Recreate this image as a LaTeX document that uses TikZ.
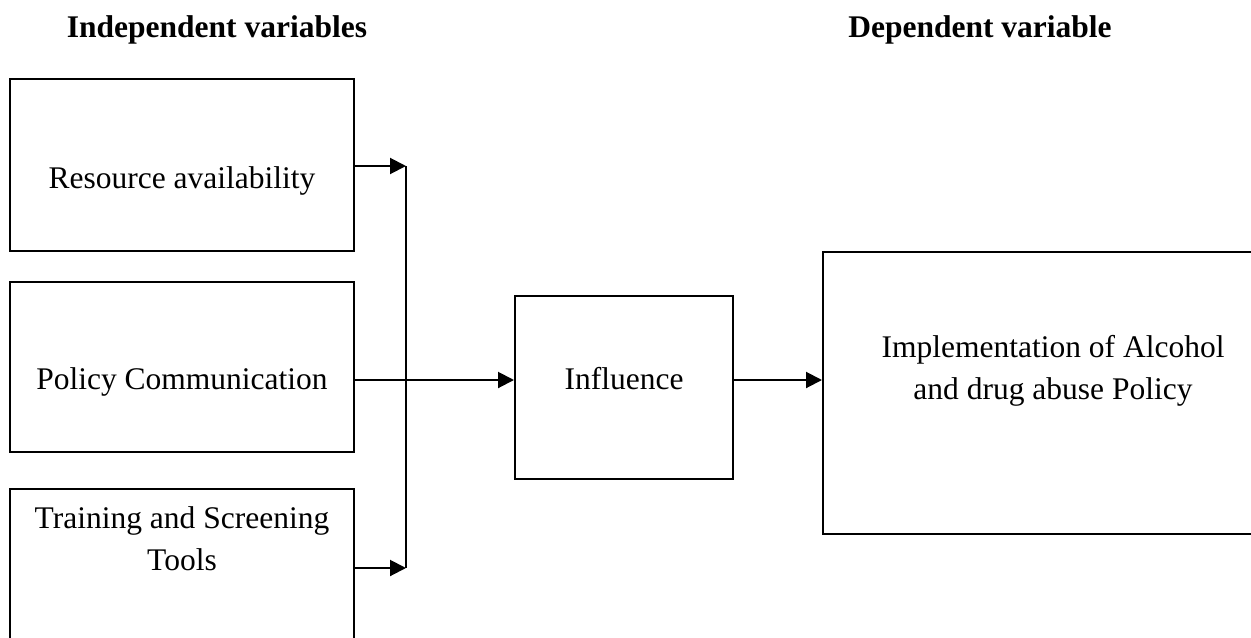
\documentclass[tikz,border=0pt]{standalone}
\usepackage{fontspec}
\setmainfont{Liberation Serif}
\usetikzlibrary{arrows.meta}
\begin{document}
\begin{tikzpicture}[x=0.5pt,y=-0.5pt,
  box/.style={draw, line width=1pt, inner sep=0pt},
  lbl/.style={font=\fontsize{15.75}{21}\selectfont, inner sep=0pt, align=center},
  ttl/.style={font=\fontsize{15.75}{21}\selectfont\bfseries, inner sep=0pt},
  arr/.style={line width=1pt, -{Triangle[length=8pt,width=8pt]}},
  ln/.style={line width=1pt}]
\useasboundingbox (0,0) rectangle (1251,637);
\clip (0,0) rectangle (1251,637);
% titles
\node[ttl, anchor=base] (ti) at (217,37) {Independent variables};
\node[ttl, anchor=base] (td) at (980,37) {Dependent variable};
% boxes
\node[box, minimum width=172pt, minimum height=86pt] (b1) at (182,165) {};
\node[box, minimum width=172pt, minimum height=85pt] (b2) at (182,367) {};
\node[box, minimum width=172pt, minimum height=86pt] (b3) at (182,575) {};
\node[box, minimum width=109pt, minimum height=91.5pt] (inf) at (624,387.5) {};
\node[box, minimum width=230pt, minimum height=141pt] (dv) at (1053,393) {};
% texts
\node[lbl, anchor=base] (t1) at (182,188) {Resource availability};
\node[lbl, anchor=base] (t2) at (182,389) {Policy Communication};
\node[lbl, anchor=base] (t3a) at (182,528) {Training and Screening};
\node[lbl, anchor=base] (t3b) at (182,570) {Tools};
\node[lbl, anchor=base] (ti2) at (624,389) {Influence};
\node[lbl, anchor=base] (td1) at (1053,357) {Implementation of Alcohol};
\node[lbl, anchor=base] (td2) at (1053,399) {and drug abuse Policy};
% connectors
\coordinate (j1) at (406,166);
\coordinate (j3) at (406,568);
\coordinate (m) at (0,380);
\draw[arr] (b1.east |- j1) -- (j1);
\draw[arr] (b3.east |- j3) -- (j3);
\draw[ln] (j1) -- (j3);
\draw[arr] (b2.east |- m) -- (inf.west |- m);
\draw[arr] (inf.east |- m) -- (dv.west |- m);
\end{tikzpicture}
\end{document}
